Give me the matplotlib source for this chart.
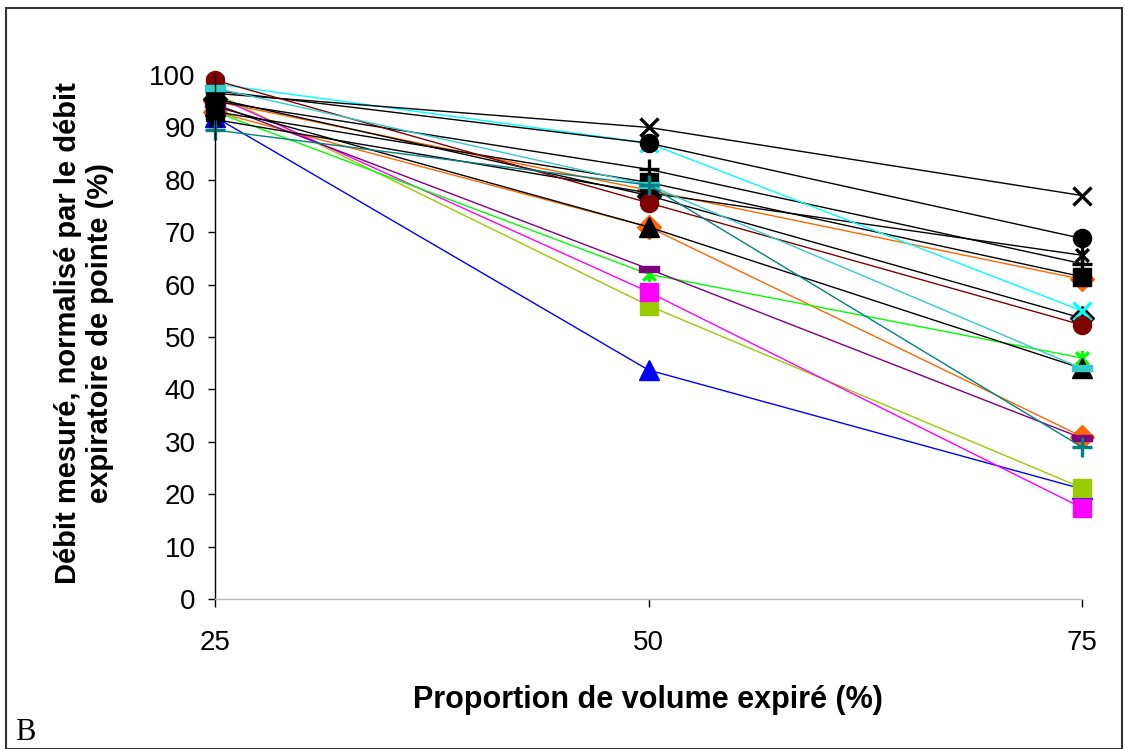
import matplotlib
matplotlib.use("Agg")
import matplotlib.pyplot as plt
from matplotlib.path import Path
from matplotlib.patches import Rectangle
import numpy as np

# ---- data ----
x_values = [25, 50, 75]
y_ticks = [0, 10, 20, 30, 40, 50, 60, 70, 80, 90, 100]

orange_a = [95.0, 78.0, 61.0]
orange_b = [93.0, 71.0, 31.0]
blue_tri = [92.0, 43.7, 21.0]
ygreen_sq = [96.5, 56.0, 21.2]
magenta_sq = [96.0, 58.6, 17.4]
green_star = [93.0, 62.0, 46.0]
purple_bar = [94.5, 63.0, 30.7]
black_diamond = [95.5, 77.0, 53.6]
black_tri = [94.0, 71.0, 44.0]
black_sq = [93.0, 79.5, 61.5]
black_plus = [95.0, 82.0, 64.0]
black_star = [91.5, 77.5, 65.6]
cyan_x = [98.3, 87.0, 55.0]
black_circle = [97.0, 87.0, 68.8]
black_x = [96.5, 90.0, 77.0]
darkred_circle = [99.0, 75.6, 52.3]
cyan_bar = [97.5, 79.0, 44.0]
teal_plus = [89.5, 79.0, 29.0]

dash_marker = Path([(-1, -0.3), (1, -0.3), (1, 0.3), (-1, 0.3), (-1, -0.3)],
                   [Path.MOVETO, Path.LINETO, Path.LINETO, Path.LINETO, Path.CLOSEPOLY])
star_marker = Path([(-1, -1), (1, 1), (-1, 1), (1, -1), (0, -1.2), (0, 1.2)],
                   [Path.MOVETO, Path.LINETO, Path.MOVETO, Path.LINETO, Path.MOVETO, Path.LINETO])

series = [
    (orange_a, "#FF6600", "D", 12, True),
    (orange_b, "#FF6600", "D", 12, True),
    (blue_tri, "#0000FF", "^", 14, True),
    (ygreen_sq, "#99CC00", "s", 12.5, True),
    (magenta_sq, "#FF00FF", "s", 12.5, True),
    (green_star, "#00FF00", star_marker, 11, False),
    (purple_bar, "#800080", dash_marker, 15, True),
    (black_diamond, "#000000", "D", 12, True),
    (black_tri, "#000000", "^", 14, True),
    (black_sq, "#000000", "s", 12.5, True),
    (black_plus, "#000000", "+", 15, False),
    (black_star, "#000000", star_marker, 11, False),
    (cyan_x, "#00FFFF", "x", 13, False),
    (black_circle, "#000000", "o", 13, True),
    (black_x, "#000000", "x", 13, False),
    (darkred_circle, "#800000", "o", 13, True),
    (cyan_bar, "#33CCCC", dash_marker, 15, True),
    (teal_plus, "#008080", "+", 15, False),
]

plt.rcParams['font.family'] = ['Liberation Sans', 'DejaVu Sans']

fig = plt.figure(figsize=(11.25, 7.49), dpi=100)
fig.patch.set_facecolor("white")
ax = fig.add_axes([215 / 1125, 1 - 599 / 749, (1082 - 215) / 1125, (599 - 75) / 749])

for vals, col, mk, ms, filled in series:
    if filled:
        ax.plot(x_values, vals, color=col, lw=1.0, marker=mk, ms=ms,
                mfc=col, mec=col, mew=1, clip_on=False)
    else:
        ax.plot(x_values, vals, color=col, lw=1.0, marker=mk, ms=ms,
                mec=col, mew=2.4, clip_on=False)

ax.set_xlim(25, 75)
ax.set_ylim(0, 100)
ax.set_xticks(x_values)
ax.set_xticklabels([str(v) for v in x_values])
ax.set_yticks(y_ticks)
ax.set_yticklabels([str(v) for v in y_ticks])
ax.spines['top'].set_visible(False)
ax.spines['right'].set_visible(False)
ax.spines['left'].set_color('black')
ax.spines['left'].set_linewidth(1.0)
ax.spines['bottom'].set_color('#bbbbbb')
ax.spines['bottom'].set_linewidth(1.0)
ax.tick_params(axis='y', direction='out', length=5, width=1, pad=9, labelsize=20)
ax.tick_params(axis='x', direction='out', length=6, width=1, pad=16, labelsize=20)

fig.text(648 / 1125, 1 - 700 / 749, "Proportion de volume expiré (%)",
         ha='center', va='center', fontsize=22, fontweight='bold')
fig.text(84 / 1125, 1 - 333 / 749,
         "Débit mesuré, normalisé par le débit\nexpiratoire de pointe (%)",
         ha='center', va='center', rotation=90, fontsize=21, fontweight='bold',
         multialignment='center', linespacing=1.15)
fig.text(15 / 1125, 1 - 732 / 749, "B", ha='left', va='center', fontsize=22,
         family=['Liberation Serif', 'DejaVu Serif'])

fig.patches.append(Rectangle((6 / 1125, 0), 1116 / 1125, 1 - 8 / 749,
                             transform=fig.transFigure, fill=False,
                             edgecolor='#333333', lw=1.5))

fig.savefig("out.png", dpi=100)
